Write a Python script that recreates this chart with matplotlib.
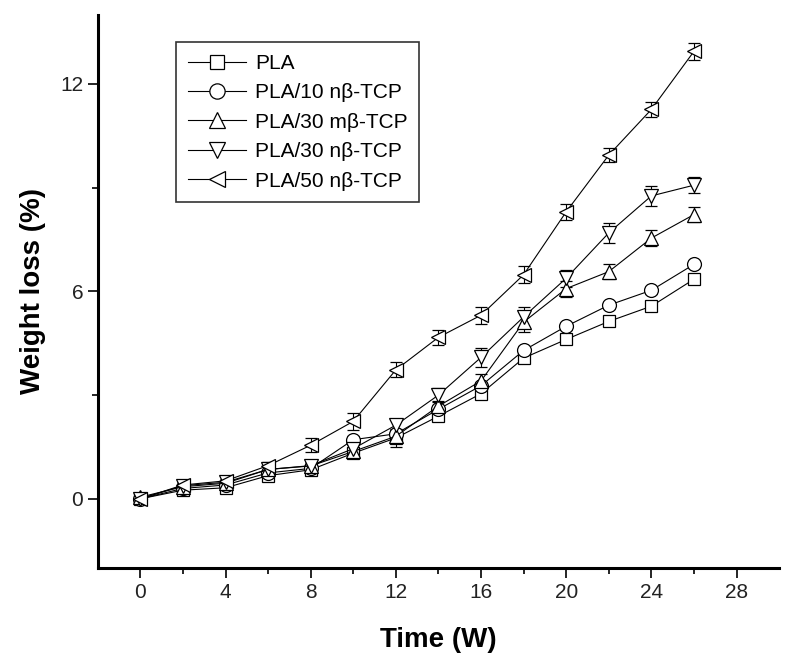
import numpy as np
import matplotlib
matplotlib.use("Agg")
import matplotlib.pyplot as plt
from matplotlib.lines import Line2D

plt.rcParams['font.family'] = ['Liberation Sans', 'DejaVu Sans']

weeks = [0, 2, 4, 6, 8, 10, 12, 14, 16, 18, 20, 22, 24, 26]

pla = [0.0, 0.25, 0.32, 0.67, 0.84, 1.32, 1.76, 2.39, 3.04, 4.07, 4.61, 5.13, 5.57, 6.35]
pla_err = [0.1, 0.08, 0.08, 0.08, 0.1, 0.12, 0.25, 0.12, 0.12, 0.12, 0.1, 0.1, 0.1, 0.1]

pla10n = [0.0, 0.30, 0.40, 0.75, 0.88, 1.71, 1.88, 2.59, 3.27, 4.29, 4.99, 5.60, 6.03, 6.78]
pla10n_err = [0.1, 0.08, 0.08, 0.08, 0.1, 0.1, 0.12, 0.12, 0.12, 0.12, 0.1, 0.1, 0.1, 0.1]

pla30m = [0.05, 0.35, 0.45, 0.85, 0.95, 1.37, 1.81, 2.68, 3.41, 5.11, 6.08, 6.57, 7.54, 8.22]
pla30m_err = [0.12, 0.08, 0.08, 0.08, 0.1, 0.12, 0.18, 0.15, 0.2, 0.3, 0.23, 0.22, 0.23, 0.22]

pla30n = [0.0, 0.38, 0.48, 0.85, 0.96, 1.45, 2.13, 3.00, 4.09, 5.26, 6.38, 7.69, 8.76, 9.07]
pla30n_err = [0.1, 0.08, 0.08, 0.08, 0.1, 0.12, 0.15, 0.2, 0.28, 0.3, 0.25, 0.29, 0.3, 0.23]

pla50n = [0.0, 0.40, 0.52, 0.96, 1.55, 2.24, 3.73, 4.67, 5.31, 6.48, 8.30, 9.94, 11.26, 12.94]
pla50n_err = [0.1, 0.08, 0.1, 0.1, 0.2, 0.24, 0.22, 0.22, 0.24, 0.24, 0.23, 0.2, 0.22, 0.24]

series = [
    ("PLA", pla, pla_err, "s", 9),
    ("PLA/10 n\u03b2-TCP", pla10n, pla10n_err, "o", 10),
    ("PLA/30 m\u03b2-TCP", pla30m, pla30m_err, "^", 10.5),
    ("PLA/30 n\u03b2-TCP", pla30n, pla30n_err, "v", 10.5),
    ("PLA/50 n\u03b2-TCP", pla50n, pla50n_err, "<", 10.5),
]

fig = plt.figure(figsize=(7.95, 6.69), dpi=100)
ax = fig.add_axes([0.123, 0.151, 0.857, 0.827])

handles = []
for label, vals, err, mk, ms in series:
    ax.errorbar(weeks, vals, yerr=err, color="black", lw=0.8, marker=mk,
                markersize=ms, markerfacecolor="white", markeredgecolor="black",
                markeredgewidth=0.9, elinewidth=0.8, capsize=4, capthick=0.8)
    handles.append(Line2D([], [], color="black", lw=0.8, marker=mk, markersize=ms + 1,
                          markerfacecolor="white", markeredgecolor="black",
                          markeredgewidth=0.9, label=label))

ax.set_xlim(-2, 30)
ax.set_ylim(-2, 14)
ax.set_xticks(range(0, 29, 4))
ax.set_xticks(range(2, 30, 4), minor=True)
ax.set_yticks([0, 6, 12])
ax.set_yticks([3, 9], minor=True)

for s in ["top", "right"]:
    ax.spines[s].set_visible(False)
for s in ["left", "bottom"]:
    ax.spines[s].set_linewidth(2.2)

ax.tick_params(which="major", direction="out", length=7, width=1.2, labelsize=15,
               labelcolor="#222222")
ax.tick_params(which="minor", direction="out", length=4, width=1.2)

ax.set_xlabel("Time (W)", fontsize=20, fontweight="bold", labelpad=18)
ax.set_ylabel("Weight loss (%)", fontsize=20, fontweight="bold", labelpad=10)

leg = ax.legend(handles=handles, loc="upper left", bbox_to_anchor=(0.115, 0.95),
                borderaxespad=0, fontsize=15, frameon=True, fancybox=False,
                edgecolor="black", handlelength=2.8, labelspacing=0.5,
                borderpad=0.55, handletextpad=0.45)
leg.get_frame().set_linewidth(1.2)

fig.savefig("out.png", dpi=100)
